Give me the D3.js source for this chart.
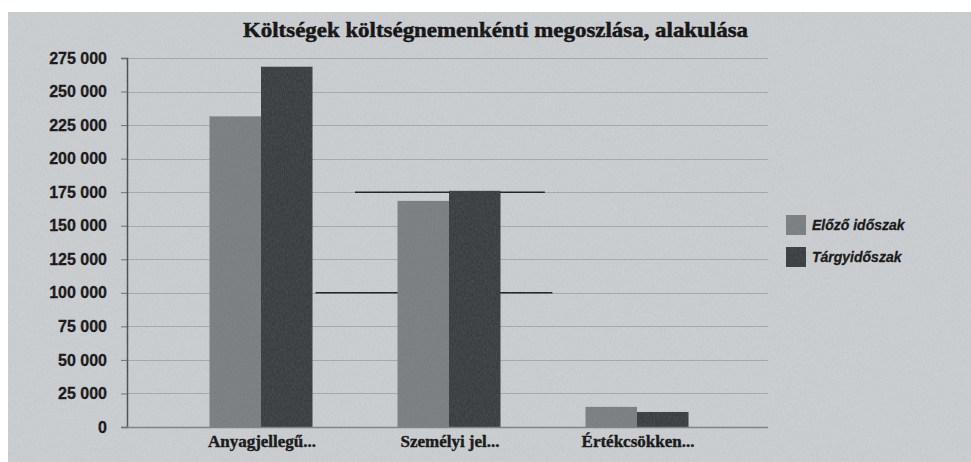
<!DOCTYPE html>
<html>
<head>
<meta charset="utf-8">
<script src="https://cdn.jsdelivr.net/npm/d3@7"></script>
<style>
  html, body { margin: 0; padding: 0; background: #fff; }
  svg { display: block; }
</style>
</head>
<body>
<svg id="chart" width="971" height="462"></svg>
<script>
// ── data ────────────────────────────────────────────────────────────────
const title = "Költségek költségnemenkénti megoszlása, alakulása";
const categories = ["Anyagjellegű...", "Személyi jel...", "Értékcsökken..."];
const seriesNames = ["Előző időszak", "Tárgyidőszak"];
const previousPeriod = [231500, 168500, 15000];
const currentPeriod = [268500, 176000, 11200];
const yTicks = [0, 25000, 50000, 75000, 100000, 125000, 150000, 175000, 200000, 225000, 250000, 275000];
// darker gridline pieces seen on the scan: value + span in category index units
const darkGridPieces = [
  { value: 100000, from: 0.29, to: 1.55 },
  { value: 175000, from: 0.5, to: 1.51 }
];

const seriesColors = ["#7a7e80", "#383b3d"];

// ── setup ───────────────────────────────────────────────────────────────
const svg = d3.select("#chart");
const width = +svg.attr("width");
const height = +svg.attr("height");

// scanned paper look
const defs = svg.append("defs");
const noise = defs.append("filter").attr("id", "grain")
  .attr("x", 0).attr("y", 0).attr("width", "100%").attr("height", "100%");
noise.append("feTurbulence").attr("type", "fractalNoise")
  .attr("baseFrequency", "0.9 0.35").attr("numOctaves", 2).attr("seed", 4);
noise.append("feColorMatrix").attr("type", "matrix")
  .attr("values", "0 0 0 0 0.35  0 0 0 0 0.36  0 0 0 0 0.38  0 0 0 0.55 -0.12");

svg.append("rect").attr("width", width).attr("height", height).attr("fill", "#ffffff");
svg.append("rect").attr("x", 8).attr("y", 12)
  .attr("width", width - 8).attr("height", height - 12).attr("fill", "#cdd0d3");

const plotLeft = 127, plotRight = 768;

const y = d3.scaleLinear().domain([0, 275000]).range([427, 58]);
const x = d3.scaleBand().domain(categories).range([167, 731]);
const xInner = d3.scaleBand().domain(seriesNames).range([0, 103]);
const groupOffset = (x.bandwidth() - 103) / 2;

// ── gridlines ───────────────────────────────────────────────────────────
svg.append("g")
  .selectAll("line")
  .data(yTicks.filter(d => d > 0))
  .join("line")
    .attr("x1", plotLeft).attr("x2", plotRight)
    .attr("y1", d => Math.round(y(d)) + 0.5).attr("y2", d => Math.round(y(d)) + 0.5)
    .attr("stroke", "#a6aaad")
    .attr("stroke-width", 1.2);

const idxToX = i => x(categories[0]) + x.bandwidth() / 2 + i * x.step();
svg.append("g")
  .selectAll("line")
  .data(darkGridPieces)
  .join("line")
    .attr("x1", d => idxToX(d.from)).attr("x2", d => idxToX(d.to))
    .attr("y1", d => y(d.value)).attr("y2", d => y(d.value))
    .attr("stroke", "#1c1c1c")
    .attr("stroke-width", 1.6);

// ── bars ────────────────────────────────────────────────────────────────
const rows = categories.map((c, i) => ({
  category: c,
  values: [previousPeriod[i], currentPeriod[i]]
}));

svg.append("g")
  .selectAll("g")
  .data(rows)
  .join("g")
    .attr("transform", d => `translate(${x(d.category) + groupOffset},0)`)
  .selectAll("rect")
  .data(d => d.values.map((v, k) => ({ name: seriesNames[k], value: v, k })))
  .join("rect")
    .attr("x", d => xInner(d.name))
    .attr("y", d => y(d.value))
    .attr("width", xInner.bandwidth())
    .attr("height", d => y(0) - y(d.value))
    .attr("fill", d => seriesColors[d.k]);

// ── axes ────────────────────────────────────────────────────────────────
const yAxis = svg.append("g")
  .attr("transform", `translate(${plotLeft},0)`)
  .call(d3.axisLeft(y).tickValues(yTicks).tickSize(6).tickPadding(14)
    .tickFormat(d => d3.format(",")(d).replace(/,/g, " ")));
yAxis.select(".domain").attr("stroke", "#4a4d50").attr("stroke-width", 1.5);
yAxis.selectAll(".tick line").attr("stroke", "#6a6d70");
yAxis.selectAll("text")
  .attr("fill", "#111")
  .attr("stroke", "#111").attr("stroke-width", 0.3)
  .style("font-family", "'Liberation Sans', Arial, sans-serif")
  .style("font-weight", "bold")
  .style("font-size", "16px");

svg.append("line")
  .attr("x1", plotLeft).attr("x2", plotRight)
  .attr("y1", y(0) + 0.5).attr("y2", y(0) + 0.5)
  .attr("stroke", "#7d8184").attr("stroke-width", 1.5);

svg.append("g")
  .selectAll("text")
  .data(categories)
  .join("text")
    .attr("x", d => x(d) + x.bandwidth() / 2 + 1)
    .attr("y", 447)
    .attr("text-anchor", "middle")
    .attr("fill", "#111")
    .attr("stroke", "#111").attr("stroke-width", 0.4)
    .style("font-family", "'Liberation Serif', 'Times New Roman', serif")
    .style("font-weight", "bold")
    .style("font-size", "17px")
    .text(d => d);

// ── title ───────────────────────────────────────────────────────────────
svg.append("text")
  .attr("x", 243).attr("y", 37)
  .attr("textLength", 505)
  .attr("lengthAdjust", "spacingAndGlyphs")
  .attr("fill", "#0d0d0d")
  .attr("stroke", "#0d0d0d").attr("stroke-width", 0.5)
  .style("font-family", "'Liberation Serif', 'Times New Roman', serif")
  .style("font-weight", "bold")
  .style("font-size", "21px")
  .text(title);

// ── legend ──────────────────────────────────────────────────────────────
const legend = svg.append("g").attr("transform", "translate(786,215)");
const item = legend.selectAll("g")
  .data(seriesNames)
  .join("g")
    .attr("transform", (d, i) => `translate(0,${i * 32})`);
item.append("rect")
  .attr("width", 20).attr("height", 20)
  .attr("fill", (d, i) => seriesColors[i]);
item.append("text")
  .attr("x", 26).attr("y", 15)
  .attr("fill", "#111")
  .attr("stroke", "#111").attr("stroke-width", 0.3)
  .style("font-family", "'Liberation Sans', Arial, sans-serif")
  .style("font-weight", "bold")
  .style("font-style", "italic")
  .style("font-size", "14px")
  .text(d => d);

// grain over everything
svg.append("rect").attr("x", 8).attr("y", 12)
  .attr("width", width - 8).attr("height", height - 12)
  .attr("filter", "url(#grain)")
  .attr("opacity", 0.5);
</script>
</body>
</html>
